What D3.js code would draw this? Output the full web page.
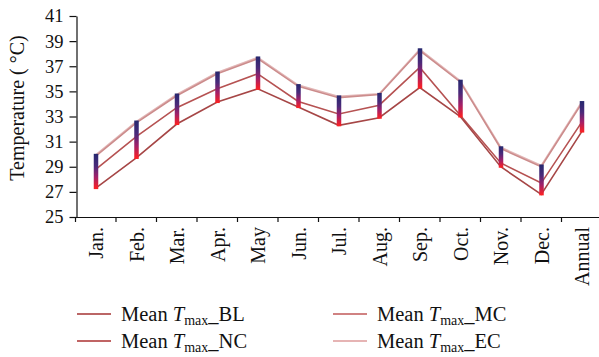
<!DOCTYPE html>
<html>
<head>
<meta charset="utf-8">
<script src="https://cdn.jsdelivr.net/npm/d3@7"></script>
<style>
body { margin: 0; background: #fff; }
svg { display: block; }
text { font-family: "Liberation Serif", "DejaVu Serif", serif; fill: #111; }
</style>
</head>
<body>
<svg id="chart" width="599" height="357"></svg>
<script>
const categories = ["Jan.", "Feb.", "Mar.", "Apr.", "May", "Jun.", "Jul.", "Aug.", "Sep.", "Oct.", "Nov.", "Dec.", "Annual"];
const tmaxBL = [27.3, 29.7, 32.4, 34.15, 35.2, 33.75, 32.3, 32.9, 35.3, 33.0, 29.0, 26.8, 31.8];
const tmaxNC = [28.8, 31.4, 33.7, 35.2, 36.4, 34.2, 33.2, 33.9, 36.9, 33.1, 29.3, 27.7, 32.55];
const tmaxMC = [29.85, 32.5, 34.65, 36.4, 37.6, 35.4, 34.5, 34.75, 38.25, 35.75, 30.45, 29.0, 34.05];
const tmaxEC = [29.95, 32.6, 34.75, 36.5, 37.7, 35.5, 34.6, 34.8, 38.35, 35.85, 30.55, 29.1, 34.15];
const yTicks = [25, 27, 29, 31, 33, 35, 37, 39, 41];
const seriesNames = ["BL", "NC", "MC", "EC"];

const series = [
  { name: seriesNames[0], values: tmaxBL, color: "#a64646", legendColor: "#bb6666" },
  { name: seriesNames[1], values: tmaxNC, color: "#b65252", legendColor: "#c06464" },
  { name: seriesNames[2], values: tmaxMC, color: "#cc8c8c", legendColor: "#d08282" },
  { name: seriesNames[3], values: tmaxEC, color: "#e2b6b6", legendColor: "#e6b4b4" }
];

const svg = d3.select("#chart");
const x = d3.scaleBand().domain(categories).range([75.5, 602]).paddingInner(0).paddingOuter(0);
const y = d3.scaleLinear().domain([25, 41]).range([217, 16]);
const cx = d => x(d) + x.bandwidth() / 2;

// gradient for bars
const defs = svg.append("defs");
const grad = defs.append("linearGradient").attr("id", "barGrad")
  .attr("x1", 0).attr("y1", 0).attr("x2", 0).attr("y2", 1);
grad.append("stop").attr("offset", "0%").attr("stop-color", "#26286e");
grad.append("stop").attr("offset", "35%").attr("stop-color", "#4a2a7a");
grad.append("stop").attr("offset", "65%").attr("stop-color", "#a0206a");
grad.append("stop").attr("offset", "88%").attr("stop-color", "#e02038");
grad.append("stop").attr("offset", "100%").attr("stop-color", "#ff2020");

// Y axis
const yAxis = d3.axisLeft(y).tickValues(yTicks).tickSize(7).tickSizeOuter(0).tickFormat(d3.format("d"));
const gy = svg.append("g").attr("transform", "translate(76.5,0)").call(yAxis);
gy.select(".domain").attr("stroke", "#111").attr("stroke-width", 1.2);
gy.selectAll(".tick line").attr("stroke", "#111").attr("stroke-width", 1.2);
gy.selectAll(".tick text").attr("font-size", 18.5).attr("x", -13).style("font-family", "Liberation Serif");

// X axis line and boundary ticks
svg.append("line").attr("x1", 76).attr("x2", 599).attr("y1", 217.5).attr("y2", 217.5)
  .attr("stroke", "#111").attr("stroke-width", 1.2);
const bounds = categories.map(c => x(c));
svg.append("g").selectAll("line").data(bounds).join("line")
  .attr("x1", d => d).attr("x2", d => d).attr("y1", 217.5).attr("y2", 222)
  .attr("stroke", "#111").attr("stroke-width", 1.2);

// X labels
svg.append("g").selectAll("text").data(categories).join("text")
  .attr("transform", d => `translate(${cx(d) + 1},227) rotate(-90)`)
  .attr("text-anchor", "end").attr("dy", "0.33em").attr("font-size", 20)
  .text(d => d);

// Y label
svg.append("text").attr("transform", "translate(24,108) rotate(-90)")
  .attr("text-anchor", "middle").attr("font-size", 20)
  .text("Temperature ( \u00B0C)");

// lines (draw EC first so darker on top)
const line = d3.line().x((d, i) => cx(categories[i])).y(d => y(d));
svg.append("g").selectAll("path").data(series.slice().reverse()).join("path")
  .attr("d", s => line(s.values)).attr("fill", "none")
  .attr("stroke", s => s.color).attr("stroke-width", 1.6);

// bars
const barData = categories.map((c, i) => ({
  c, lo: Math.min(tmaxBL[i], tmaxNC[i], tmaxMC[i], tmaxEC[i]),
  hi: Math.max(tmaxBL[i], tmaxNC[i], tmaxMC[i], tmaxEC[i])
}));
svg.append("g").selectAll("rect").data(barData).join("rect")
  .attr("x", d => cx(d.c) - 2).attr("width", 4.5)
  .attr("y", d => y(d.hi) - 1).attr("height", d => y(d.lo) - y(d.hi) + 2)
  .attr("fill", "url(#barGrad)");

// legend
const legendPos = [
  { x: 77, y: 314 }, { x: 77, y: 341 }, { x: 333, y: 314 }, { x: 333, y: 341 }
];
const lg = svg.append("g").selectAll("g").data(series).join("g")
  .attr("transform", (d, i) => `translate(${legendPos[i].x},${legendPos[i].y})`);
lg.append("line").attr("x1", 0).attr("x2", 34).attr("y1", 0).attr("y2", 0)
  .attr("stroke", d => d.legendColor).attr("stroke-width", 1.8);
const lt = lg.append("text").attr("x", 44).attr("y", 6.5).attr("font-size", 20.5);
lt.append("tspan").text("Mean ");
lt.append("tspan").attr("font-style", "italic").text("T");
lt.append("tspan").attr("font-size", 14).attr("dy", 4).text("max");
lt.append("tspan").attr("dy", -4).text(d => "_" + d.name);
</script>
</body>
</html>
